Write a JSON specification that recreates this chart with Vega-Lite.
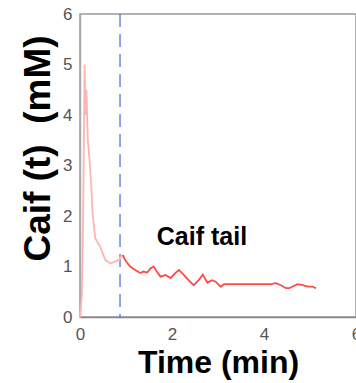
{
  "$schema": "https://vega.github.io/schema/vega-lite/v6.json",
  "width": 276,
  "height": 303,
  "autosize": {"type": "none"},
  "padding": {"left": 80, "top": 14, "right": 0, "bottom": 66},
  "background": "white",
  "config": {
    "view": {"stroke": "#999", "strokeWidth": 1.5},
    "font": "Liberation Sans"
  },
  "datasets": {
    "curve": [
      {"t": 0, "c": 0, "seg": "rise"},
      {"t": 0.04, "c": 0.4, "seg": "rise"},
      {"t": 0.07, "c": 2.1, "seg": "rise"},
      {"t": 0.1, "c": 5.0, "seg": "rise"},
      {"t": 0.12, "c": 4.0, "seg": "rise"},
      {"t": 0.14, "c": 4.5, "seg": "rise"},
      {"t": 0.17, "c": 3.5, "seg": "rise"},
      {"t": 0.2, "c": 3.2, "seg": "rise"},
      {"t": 0.25, "c": 2.5, "seg": "rise"},
      {"t": 0.27, "c": 2.1, "seg": "rise"},
      {"t": 0.33, "c": 1.56, "seg": "rise"},
      {"t": 0.44, "c": 1.39, "seg": "rise"},
      {"t": 0.55, "c": 1.13, "seg": "rise"},
      {"t": 0.66, "c": 1.06, "seg": "rise"},
      {"t": 0.84, "c": 1.13, "seg": "rise"},
      {"t": 0.93, "c": 1.23, "seg": "rise"},
      {"t": 0.93, "c": 1.23, "seg": "tail"},
      {"t": 0.98, "c": 1.13, "seg": "tail"},
      {"t": 1.09, "c": 1.0, "seg": "tail"},
      {"t": 1.2, "c": 0.93, "seg": "tail"},
      {"t": 1.31, "c": 0.87, "seg": "tail"},
      {"t": 1.38, "c": 0.9, "seg": "tail"},
      {"t": 1.46, "c": 0.88, "seg": "tail"},
      {"t": 1.53, "c": 0.96, "seg": "tail"},
      {"t": 1.6, "c": 1.0, "seg": "tail"},
      {"t": 1.67, "c": 0.9, "seg": "tail"},
      {"t": 1.75, "c": 0.8, "seg": "tail"},
      {"t": 1.86, "c": 0.83, "seg": "tail"},
      {"t": 1.97, "c": 0.77, "seg": "tail"},
      {"t": 2.07, "c": 0.87, "seg": "tail"},
      {"t": 2.15, "c": 0.93, "seg": "tail"},
      {"t": 2.22, "c": 0.87, "seg": "tail"},
      {"t": 2.36, "c": 0.73, "seg": "tail"},
      {"t": 2.47, "c": 0.63, "seg": "tail"},
      {"t": 2.58, "c": 0.73, "seg": "tail"},
      {"t": 2.67, "c": 0.84, "seg": "tail"},
      {"t": 2.77, "c": 0.68, "seg": "tail"},
      {"t": 2.87, "c": 0.73, "seg": "tail"},
      {"t": 2.95, "c": 0.7, "seg": "tail"},
      {"t": 3.06, "c": 0.6, "seg": "tail"},
      {"t": 3.13, "c": 0.65, "seg": "tail"},
      {"t": 4.15, "c": 0.65, "seg": "tail"},
      {"t": 4.26, "c": 0.67, "seg": "tail"},
      {"t": 4.37, "c": 0.63, "seg": "tail"},
      {"t": 4.48, "c": 0.57, "seg": "tail"},
      {"t": 4.55, "c": 0.57, "seg": "tail"},
      {"t": 4.73, "c": 0.65, "seg": "tail"},
      {"t": 4.84, "c": 0.63, "seg": "tail"},
      {"t": 4.95, "c": 0.6, "seg": "tail"},
      {"t": 5.06, "c": 0.6, "seg": "tail"},
      {"t": 5.13, "c": 0.57, "seg": "tail"}
    ],
    "marker": [{"t": 0.87}],
    "label": [{"t": 1.67, "c": 1.43, "text": "Caif tail"}]
  },
  "layer": [
    {
      "data": {"name": "marker"},
      "mark": {"type": "rule", "color": "#3a6fd8", "strokeWidth": 1.2, "strokeDash": [13, 7]},
      "encoding": {
        "x": {"field": "t", "type": "quantitative", "scale": {"domain": [0, 6]}}
      }
    },
    {
      "data": {"name": "curve"},
      "mark": {"type": "line", "strokeWidth": 1.8},
      "encoding": {
        "x": {
          "field": "t", "type": "quantitative",
          "scale": {"domain": [0, 6], "nice": false},
          "axis": {
            "title": "Time (min)", "values": [0, 2, 4, 6], "grid": false, "ticks": false,
            "labelFlush": false,
            "labelFontSize": 17, "labelColor": "#555", "labelPadding": 9,
            "titleFontSize": 32, "titleFontWeight": "bold", "titleColor": "#000", "titlePadding": 5,
            "domainColor": "#888", "domainWidth": 1.5
          }
        },
        "y": {
          "field": "c", "type": "quantitative",
          "scale": {"domain": [0, 6], "nice": false},
          "axis": {
            "title": "Caif (t)\u00a0 (mM)", "values": [0, 1, 2, 3, 4, 5, 6], "grid": false, "ticks": false,
            "labelFlush": false,
            "labelFontSize": 17, "labelColor": "#555", "labelPadding": 8,
            "titleFontSize": 37, "titleFontWeight": "bold", "titleColor": "#000", "titlePadding": 5,
            "titleY": 134,
            "domainColor": "#aaa", "domainWidth": 1.5
          }
        },
        "color": {
          "field": "seg", "type": "nominal",
          "scale": {"domain": ["rise", "tail"], "range": ["#ffb3b3", "#ff4a4a"]},
          "legend": null
        },
        "detail": {"field": "seg"}
      }
    },
    {
      "data": {"name": "label"},
      "mark": {"type": "text", "align": "left", "baseline": "alphabetic", "fontSize": 25, "fontWeight": "bold", "color": "#000"},
      "encoding": {
        "x": {"field": "t", "type": "quantitative"},
        "y": {"field": "c", "type": "quantitative"},
        "text": {"field": "text"}
      }
    }
  ]
}
